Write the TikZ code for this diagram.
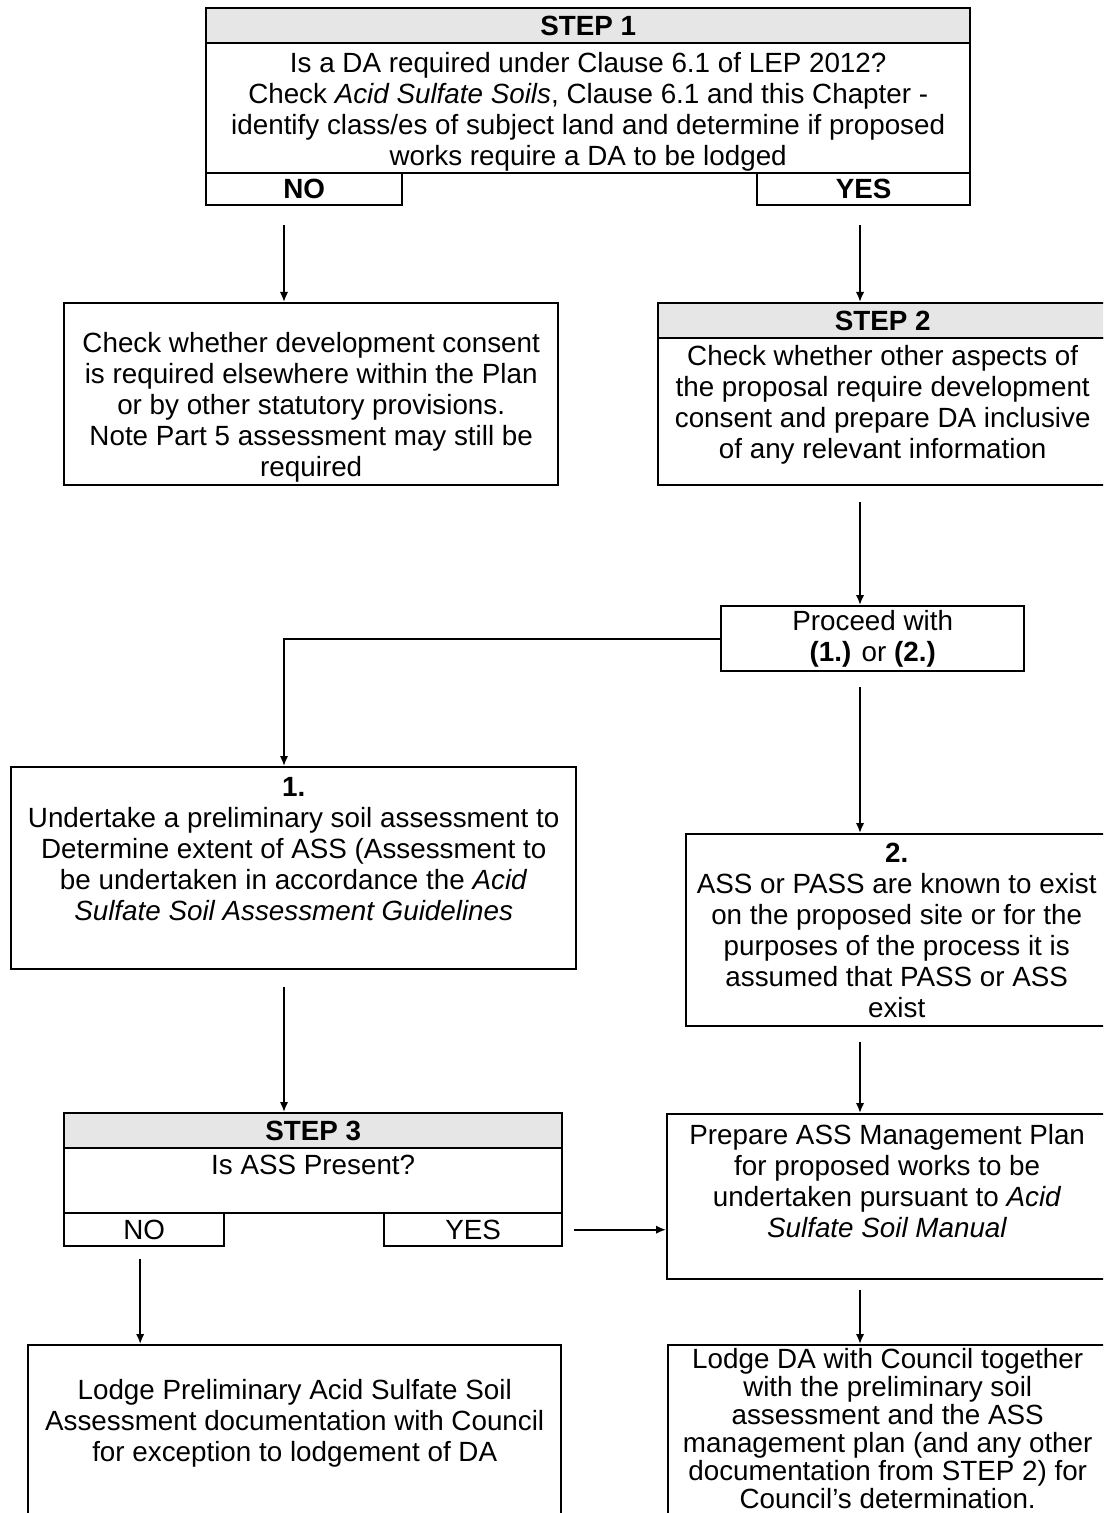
\documentclass[tikz,border=0pt]{standalone}
\usepackage{fontspec}
\setmainfont{Liberation Sans}
\usepackage{xcolor}
\usepackage{tikz}
\usetikzlibrary{arrows.meta}
\usetikzlibrary{calc}
\definecolor{headgray}{HTML}{E6E6E6}
\tikzset{
	frame/.style={draw,line width=1.2pt,inner sep=0pt,anchor=north west,align=center},
	head/.style={frame,fill=headgray,font=\bfseries},
	txt/.style={align=center,inner sep=0pt},
	arr/.style={->,line width=0.9pt}
}

\begin{document}
\fontsize{13.9pt}{15.5pt}\selectfont
\begin{tikzpicture}[x=0.5pt,y=-0.5pt,>={Latex[length=5pt,width=4.2pt]}]
	\fill[white] (0,0) rectangle (1103,1513);
	\useasboundingbox (0,0) rectangle (1103,1513);
	\clip (0,0) rectangle (1103,1513);
	\coordinate (lcol) at (284,0);
	\coordinate (rcol) at (860,0);
	% step 1
	\node [head,minimum width=382pt,minimum height=17.5pt] (1) at (205,7) {STEP 1};
	\node [frame,minimum width=382pt,minimum height=65pt] (2) at (205,42) {};
	\node [txt,yshift=-2pt] (t2) at (2) {Is a DA required under Clause 6.1 of LEP 2012?\\
		Check \textit{Acid Sulfate Soils}, Clause 6.1 and this Chapter -\\
		identify class/es of subject land and determine if proposed\\
		works require a DA to be lodged};
	\node [frame,font=\bfseries,minimum width=98pt,minimum height=16pt] (3) at (205,172) {NO};
	\node [frame,font=\bfseries,minimum width=106.5pt,minimum height=16pt] (4) at (756,172) {YES};
	% no DA / step 2
	\node [frame,minimum width=247pt,minimum height=91pt] (5) at (63,302) {};
	\node [txt,yshift=-6.5pt] (t5) at (5) {Check whether development consent\\
		is required elsewhere within the Plan\\
		or by other statutory provisions.\\
		Note Part 5 assessment may still be\\
		required};
	\node [head,minimum width=224.5pt,minimum height=17.5pt] (6) at (657,302) {STEP 2};
	\node [frame,minimum width=224.5pt,minimum height=73.5pt] (7) at (657,337) {};
	\node [txt,yshift=3.5pt] (t7) at (7) {Check whether other aspects of\\
		the proposal require development\\
		consent and prepare DA inclusive\\
		of any relevant information};
	\node [frame,minimum width=151.5pt,minimum height=32.5pt] (8) at (720,605) {Proceed with\\
		\textbf{(1.)} or \textbf{(2.)}};
	% options
	\node [frame,minimum width=282.5pt,minimum height=101pt] (9) at (10,766) {};
	\node [txt,yshift=9.5pt] (t9) at (9) {\textbf{1.}\\
		Undertake a preliminary soil assessment to\\
		Determine extent of ASS (Assessment to\\
		be undertaken in accordance the \textit{Acid}\\
		\textit{Sulfate Soil Assessment Guidelines}};
	\node [frame,minimum width=210.5pt,minimum height=96pt] (10) at (685,833) {\textbf{2.}\\
		ASS or PASS are known to exist\\
		on the proposed site or for the\\
		purposes of the process it is\\
		assumed that PASS or ASS\\
		exist};
	% step 3
	\node [head,minimum width=249pt,minimum height=17.5pt] (11) at (63,1112) {STEP 3};
	\node [frame,minimum width=249pt,minimum height=32.5pt] (12) at (63,1147) {};
	\node [txt,yshift=8pt] (t12) at (12) {Is ASS Present?};
	\node [frame,minimum width=80pt,minimum height=16.5pt] (13) at (63,1212) {NO};
	\node [frame,minimum width=89pt,minimum height=16.5pt] (14) at (383,1212) {YES};
	\node [frame,minimum width=220pt,minimum height=82.5pt] (15) at (666,1113) {};
	\node [txt,yshift=8pt] (t15) at (15) {Prepare ASS Management Plan\\
		for proposed works to be\\
		undertaken pursuant to \textit{Acid}\\
		\textit{Sulfate Soil Manual}};
	% lodgement
	\node [frame,minimum width=266.5pt,minimum height=130pt] (16) at (27,1344) {};
	\node [txt,yshift=-39.5pt] (t16) at (16.north) {Lodge Preliminary Acid Sulfate Soil\\
		Assessment documentation with Council\\
		for exception to lodgement of DA};
	\node [frame,minimum width=219.5pt,minimum height=130pt] (17) at (667,1344) {};
	\node [txt,yshift=-42.5pt,font=\fontsize{13.9pt}{14pt}\selectfont] (t17) at (17.north) {Lodge DA with Council together\\
		with the preliminary soil\\
		assessment and the ASS\\
		management plan (and any other\\
		documentation from STEP 2) for\\
		Council’s determination.};
	% arrows
	\draw[arr] ([yshift=-9.5pt]lcol |- 3.south) -- (lcol |- 5.north);
	\draw[arr] ([yshift=-9.5pt]rcol |- 4.south) -- (rcol |- 6.north);
	\draw[arr] ([yshift=-8pt]rcol |- 7.south) -- (rcol |- 8.north);
	\draw[arr] (8.west) -| (lcol |- 9.north);
	\draw[arr] ([yshift=-7.5pt]rcol |- 8.south) -- (rcol |- 10.north);
	\draw[arr] ([yshift=-8.5pt]lcol |- 9.south) -- (lcol |- 11.north);
	\draw[arr] ([yshift=-7.5pt]rcol |- 10.south) -- (rcol |- 15.north);
	\draw[arr] ([xshift=5.5pt]14.east) -- (14.east -| 15.west);
	\draw[arr] ([xshift=-2pt,yshift=-6pt]13.south) -- ([xshift=-2pt]13.south |- 16.north);
	\draw[arr] ([yshift=-5pt]rcol |- 15.south) -- (rcol |- 17.north);
\end{tikzpicture}
\end{document}
